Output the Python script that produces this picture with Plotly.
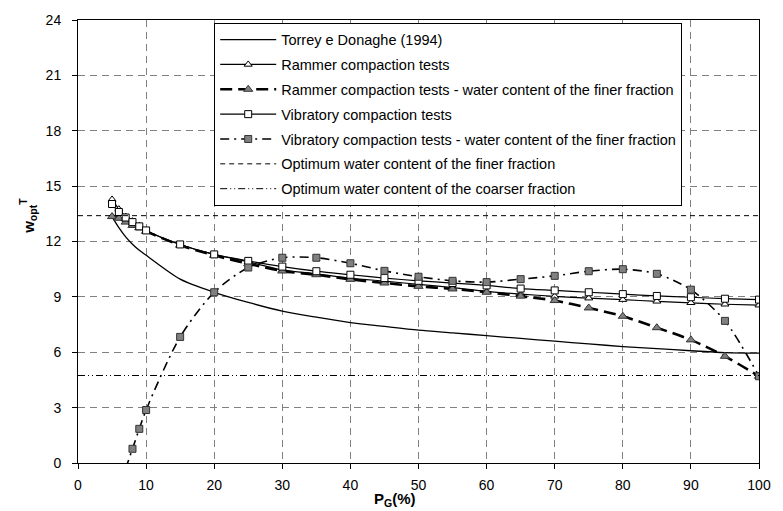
import plotly.graph_objects as go

# ---- data ----
torrey_x = [5, 6, 7, 8, 9, 10, 15, 20, 25, 30, 35, 40, 45, 50, 55, 60, 65, 70, 75, 80, 85, 90, 95, 100]
torrey_y = [13.35, 12.75, 12.25, 11.85, 11.52, 11.25, 9.96, 9.25, 8.7, 8.23, 7.9, 7.61, 7.4, 7.2, 7.05, 6.9, 6.75, 6.6, 6.45, 6.31, 6.2, 6.08, 5.98, 5.95]

tests_x = [5, 6, 7, 8, 9, 10, 15, 20, 25, 30, 35, 40, 45, 50, 55, 60, 65, 70, 75, 80, 85, 90, 95, 100]
rammer_y = [14.28, 13.75, 13.35, 13.1, 12.85, 12.6, 11.84, 11.3, 10.9, 10.46, 10.25, 10.02, 9.85, 9.68, 9.5, 9.3, 9.15, 9.03, 8.93, 8.85, 8.76, 8.68, 8.6, 8.55]
rammer_finer_y = [13.35, 13.26, 13.05, 12.87, 12.74, 12.55, 11.8, 11.25, 10.8, 10.4, 10.2, 9.95, 9.75, 9.57, 9.43, 9.25, 9.04, 8.8, 8.4, 7.95, 7.33, 6.67, 5.78, 4.7]
vibratory_y = [14.03, 13.6, 13.3, 13.05, 12.82, 12.6, 11.84, 11.3, 10.95, 10.64, 10.39, 10.2, 10.02, 9.87, 9.75, 9.62, 9.45, 9.35, 9.25, 9.15, 9.05, 8.98, 8.9, 8.85]

vib_finer_x = [7, 8, 9, 10, 15, 20, 25, 30, 35, 40, 45, 50, 55, 60, 65, 70, 75, 80, 85, 90, 95, 100]
vib_finer_y = [-0.3, 0.77, 1.85, 2.87, 6.83, 9.25, 10.59, 11.12, 11.12, 10.82, 10.41, 10.09, 9.87, 9.8, 9.96, 10.14, 10.39, 10.5, 10.25, 9.39, 7.7, 4.7]

ref_x = [0, 100]
opt_finer = 13.4
opt_coarser = 4.74

x_ticks = [0, 10, 20, 30, 40, 50, 60, 70, 80, 90, 100]
y_ticks = [0, 3, 6, 9, 12, 15, 18, 21, 24]

FONT = "Liberation Sans, Arial, sans-serif"
GREY = "#808080"

fig = go.Figure()

fig.add_trace(go.Scatter(
    x=torrey_x, y=torrey_y, mode="lines", name="Torrey e Donaghe (1994)",
    line=dict(color="black", width=1.3, shape="spline", smoothing=0.8),
    legendgroup="g1"))

fig.add_trace(go.Scatter(
    x=tests_x, y=rammer_y, mode="lines+markers", name="Rammer compaction tests",
    line=dict(color="black", width=1.2, shape="spline", smoothing=0.8),
    marker=dict(symbol="triangle-up", size=7, color="white", line=dict(color="black", width=1)),
    legendgroup="g2"))

fig.add_trace(go.Scatter(
    x=tests_x, y=rammer_finer_y, mode="lines+markers",
    name="Rammer compaction tests - water content of the finer fraction",
    line=dict(color="black", width=2.6, dash="12px,6px", shape="spline", smoothing=0.8),
    marker=dict(symbol="triangle-up", size=8, color=GREY, line=dict(color="#333333", width=1)),
    legendgroup="g3"))

fig.add_trace(go.Scatter(
    x=tests_x, y=vibratory_y, mode="lines+markers", name="Vibratory compaction tests",
    line=dict(color="black", width=1.2, shape="spline", smoothing=0.8),
    marker=dict(symbol="square", size=7, color="white", line=dict(color="black", width=1)),
    legendgroup="g4"))

fig.add_trace(go.Scatter(
    x=vib_finer_x, y=vib_finer_y, mode="lines+markers",
    name="Vibratory compaction tests - water content of the finer fraction",
    line=dict(color="black", width=1.6, dash="9px,5px,2px,5px", shape="spline", smoothing=0.8),
    marker=dict(symbol="square", size=7, color=GREY, line=dict(color="#333333", width=1)),
    legendgroup="g5"))

fig.add_trace(go.Scatter(
    x=ref_x, y=[opt_finer, opt_finer], mode="lines",
    name="Optimum water content of the finer fraction",
    line=dict(color="black", width=1, dash="5px,4px"),
    legendgroup="g6"))

fig.add_trace(go.Scatter(
    x=ref_x, y=[opt_coarser, opt_coarser], mode="lines",
    name="Optimum water content of the coarser fraction",
    line=dict(color="black", width=1, dash="7px,3px,1px,3px,1px,3px"),
    legendgroup="g7"))

axis_common = dict(
    showline=True, linecolor="black", linewidth=1, mirror=True,
    ticks="outside", ticklen=5, tickcolor="black",
    showgrid=True, gridcolor=GREY, gridwidth=1, griddash="7px,5px",
    zeroline=False, tickfont=dict(family=FONT, size=14, color="black"),
)

fig.update_xaxes(range=[0, 100], tickvals=x_ticks, ticklabelstandoff=4, **axis_common)
fig.update_yaxes(range=[0, 24], tickvals=y_ticks, ticklabelstandoff=8, **axis_common)

fig.add_annotation(
    text="<b>P<sub>G</sub>(%)</b>", xref="paper", yref="paper",
    x=0.465, y=-0.082, xanchor="center", yanchor="middle", showarrow=False,
    font=dict(family=FONT, size=15, color="black"))
fig.add_annotation(
    text="<b>w<sub>opt</sub><sup>T</sup></b>", xref="paper", yref="paper",
    x=-0.074, y=0.557, xanchor="center", yanchor="middle", showarrow=False,
    textangle=-90, font=dict(family=FONT, size=15, color="black"))

fig.update_layout(
    width=783, height=511,
    margin=dict(l=78, r=13, t=14, b=48),
    paper_bgcolor="white", plot_bgcolor="white",
    font=dict(family=FONT, size=14, color="black"),
    legend=dict(
        x=0.2, y=0.994, xanchor="left", yanchor="top",
        bgcolor="white", bordercolor="black", borderwidth=1,
        font=dict(family=FONT, size=14.5, color="black"),
        traceorder="grouped", tracegroupgap=3, itemwidth=56,
    ),
    showlegend=True,
)

fig.write_html("out.html")
